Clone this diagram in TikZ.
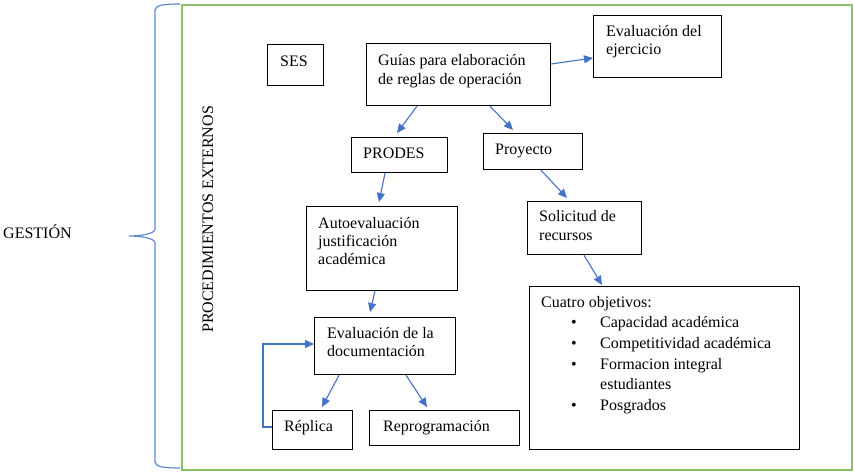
\documentclass[tikz,border=0pt]{standalone}
\usepackage{fontspec}
\setmainfont{Liberation Serif}
\usetikzlibrary{arrows.meta}
\definecolor{arrowblue}{RGB}{68,114,196}
\definecolor{braceblue}{RGB}{95,135,210}
\definecolor{framegreen}{RGB}{140,192,104}
\tikzset{
  box/.style={draw=black, line width=1.2pt, rectangle, anchor=north west, inner sep=0pt},
  txt/.style={anchor=base west, inner sep=0pt, align=left, font=\fontsize{16}{18.3}\selectfont},
  conn/.style={draw=arrowblue, line width=1.1pt, -{Triangle[length=9pt,width=8pt]}},
}
\begin{document}
\begin{tikzpicture}[x=1pt,y=-1pt]
\useasboundingbox (0,0) rectangle (854,473);
% frame and brace
\node[draw=framegreen, line width=1.8pt, rectangle, anchor=north west, inner sep=0pt,
      minimum width=670pt, minimum height=465pt] (frame) at (181,4) {};
\draw[braceblue, line width=1.2pt] (180,4) .. controls (165,4) and (155,5) .. (155,10)
  -- (155,229) .. controls (155,234) and (140,236) .. (129,236)
  .. controls (140,236) and (155,238) .. (155,243)
  -- (155,462) .. controls (155,467) and (165,468) .. (180,468);
\node[txt] (gestion) at (3,238) {GESTIÓN};
\node[txt, rotate=90] (proc) at (213,333) {PROCEDIMIENTOS EXTERNOS};
% boxes
\node[box, minimum width=56pt, minimum height=41pt] (ses) at (267,44) {};
\node[box, minimum width=184pt, minimum height=62pt] (guias) at (366,43) {};
\node[box, minimum width=128pt, minimum height=62pt] (evalej) at (593,15) {};
\node[box, minimum width=96pt, minimum height=35pt] (prodes) at (351,137) {};
\node[box, minimum width=99pt, minimum height=36pt] (proy) at (483,133) {};
\node[box, minimum width=151pt, minimum height=84pt] (auto) at (306,206) {};
\node[box, minimum width=114pt, minimum height=53pt] (solic) at (527,201) {};
\node[box, minimum width=270pt, minimum height=163pt] (cuatro) at (529,286) {};
\node[box, minimum width=141pt, minimum height=57pt] (evaldoc) at (314,317) {};
\node[box, minimum width=80pt, minimum height=39pt] (replica) at (272,410) {};
\node[box, minimum width=150pt, minimum height=35pt] (reprog) at (369,410) {};
% texts (base anchor = baseline of the last line)
\node[txt] (tses) at (280,67) {SES};
\node[txt] (tguias) at (378,84.3) {Guías para elaboración\\de reglas de operación};
\node[txt] (tevalej) at (606,54.5) {Evaluación del\\ejercicio};
\node[txt] (tprodes) at (363,159) {PRODES};
\node[txt] (tproy) at (495,155) {Proyecto};
\node[txt] (tauto) at (318,264.6) {Autoevaluación\\justificación\\académica};
\node[txt] (tsolic) at (539,240.3) {Solicitud de\\recursos};
\node[txt, font=\fontsize{16}{20.7}\selectfont] (tcuatro) at (541,410.5) {Cuatro objetivos:\\
\hspace*{30pt}\makebox[29pt][l]{•}Capacidad académica\\
\hspace*{30pt}\makebox[29pt][l]{•}Competitividad académica\\
\hspace*{30pt}\makebox[29pt][l]{•}Formacion integral\\
\hspace*{59pt}estudiantes\\
\hspace*{30pt}\makebox[29pt][l]{•}Posgrados};
\node[txt] (tevaldoc) at (327,356.3) {Evaluación de la\\documentación};
\node[txt] (treplica) at (284,431) {Réplica};
\node[txt] (treprog) at (383,431) {Reprogramación};
% connectors
\draw[conn] ([yshift=-21pt]guias.north east) -- ([yshift=-43pt]evalej.north west);
\draw[conn] ([xshift=51pt]guias.south west) -- ([xshift=46pt,yshift=4pt]prodes.north west);
\draw[conn] ([xshift=124pt]guias.south west) -- ([xshift=30pt,yshift=3pt]proy.north west);
\draw[conn] ([xshift=34pt]prodes.south west) -- ([xshift=73pt,yshift=4pt]auto.north west);
\draw[conn] ([xshift=58pt]proy.south west) -- ([xshift=40pt,yshift=3pt]solic.north west);
\draw[conn] ([xshift=57pt]solic.south west) -- ([xshift=73pt,yshift=1pt]cuatro.north west);
\draw[conn] ([xshift=69pt]auto.south west) -- ([xshift=56pt,yshift=5pt]evaldoc.north west);
\draw[conn] ([xshift=25pt]evaldoc.south west) -- ([xshift=50pt,yshift=3pt]replica.north west);
\draw[conn] ([xshift=92pt]evaldoc.south west) -- ([xshift=58pt,yshift=3pt]reprog.north west);
\draw[conn] ([yshift=-17pt]replica.north west) -- ++(-9,0) |- ([yshift=-27pt]evaldoc.north west);
\end{tikzpicture}
\end{document}
